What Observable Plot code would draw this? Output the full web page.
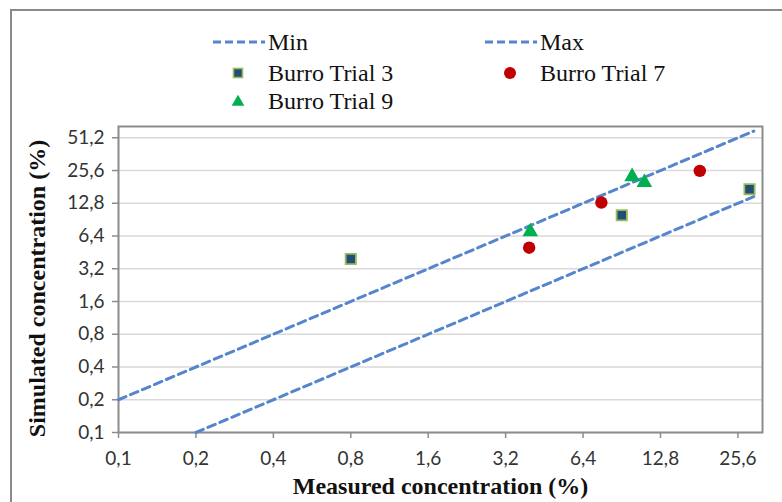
<!DOCTYPE html>
<html>
<head>
<meta charset="utf-8">
<script src="https://cdn.jsdelivr.net/npm/d3@7"></script>
<script src="https://cdn.jsdelivr.net/npm/@observablehq/plot@0.6"></script>
<style>
  html, body { margin: 0; padding: 0; background: #fff; }
  #wrap { position: relative; width: 782px; height: 502px; overflow: hidden; }
  #border { position: absolute; left: 10px; top: 9px; width: 800px; height: 520px; border: 2px solid #8a8a8a; pointer-events: none; }
  #legend { display: block; }
  #chart svg { overflow: visible; }
</style>
</head>
<body>
<div id="wrap">
  <div id="border"></div>
  <svg id="legend" width="782" height="116"></svg>
  <div id="chart"></div>
</div>
<script>
// ---- data ----
const xTicks = [0.1, 0.2, 0.4, 0.8, 1.6, 3.2, 6.4, 12.8, 25.6];
const yTicks = [0.1, 0.2, 0.4, 0.8, 1.6, 3.2, 6.4, 12.8, 25.6, 51.2];

const minX = [0.1, 29.5];
const minY = [0.2, 59];
const maxX = [0.2, 29.5];
const maxY = [0.1, 14.75];

const trial3X = [0.8, 9.05, 28.4];
const trial3Y = [3.93, 9.93, 17.2];
const trial7X = [3.95, 7.54, 18.2];
const trial7Y = [5.0, 13.0, 25.4];
const trial9X = [3.99, 9.93, 11.08];
const trial9Y = [7.0, 22.5, 19.9];

const seriesNames = ["Min", "Max", "Burro Trial 3", "Burro Trial 7", "Burro Trial 9"];

// ---- styles ----
const lineColor = "#5585cc";
const c3Fill = "#1f4e79", c3Stroke = "#9bbb59";
const c7Fill = "#c00000";
const c9Fill = "#00b050";
const serif = "'Liberation Serif', 'DejaVu Serif', serif";
const sans = "Lato, 'Liberation Sans', sans-serif";

const zip = (xs, ys) => xs.map((x, i) => ({x, y: ys[i]}));
const fmt = d => String(d).replace(".", ",");

const chart = Plot.plot({
  width: 782,
  height: 386,
  marginTop: 10,
  marginLeft: 118,
  marginRight: 20,
  marginBottom: 70,
  style: {fontFamily: sans, fontSize: "19px", color: "#333", background: "transparent", overflow: "visible"},
  x: {type: "log", base: 2, domain: [0.1, 31.9]},
  y: {type: "log", base: 2, domain: [0.1, 65]},
  marks: [
    Plot.gridY(yTicks, {stroke: "#d9d9d9", strokeOpacity: 1, strokeWidth: 1.5}),
    Plot.frame({stroke: "#8c8c8c", strokeWidth: 2}),
    Plot.axisX(xTicks, {tickSize: 6, tickPadding: 13, stroke: "#8c8c8c", strokeWidth: 1.5, tickFormat: fmt, label: null, fill: "#333"}),
    Plot.axisY(yTicks, {tickSize: 6, tickPadding: 8, stroke: "#8c8c8c", strokeWidth: 1.5, tickFormat: fmt, label: null, fill: "#333"}),
    Plot.line(zip(minX, minY), {x: "x", y: "y", stroke: lineColor, strokeWidth: 3, strokeDasharray: "8,5"}),
    Plot.line(zip(maxX, maxY), {x: "x", y: "y", stroke: lineColor, strokeWidth: 3, strokeDasharray: "8,5"}),
    Plot.dot(zip(trial3X, trial3Y), {x: "x", y: "y", symbol: "square", r: 5.8, fill: c3Fill, stroke: c3Stroke, strokeWidth: 1.8}),
    Plot.dot(zip(trial7X, trial7Y), {x: "x", y: "y", symbol: "circle", r: 6.2, fill: c7Fill, stroke: null}),
    Plot.dot(zip(trial9X, trial9Y), {x: "x", y: "y", symbol: "triangle", r: 5.8, fill: c9Fill, stroke: null}),
    Plot.text(["Simulated concentration (%)"], {frameAnchor: "left", dx: -81, dy: 9, rotate: -90, textAnchor: "middle",
      lineAnchor: "middle", text: d => d, fontFamily: serif, fontSize: 24, fontWeight: "bold", fill: "#111"}),
    Plot.text(["Measured concentration (%)"], {frameAnchor: "bottom", dy: 61, textAnchor: "middle", text: d => d,
      fontFamily: serif, fontSize: 24, fontWeight: "bold", fill: "#111"})
  ]
});
document.getElementById("chart").appendChild(chart);

// ---- legend ----
const lg = d3.select("#legend");
const tstyle = s => s.attr("font-family", serif).attr("font-size", 24).attr("fill", "#111");
lg.append("line").attr("x1", 213).attr("x2", 265).attr("y1", 42).attr("y2", 42)
  .attr("stroke", lineColor).attr("stroke-width", 3).attr("stroke-dasharray", "8,4");
lg.append("text").attr("x", 268).attr("y", 50).text(seriesNames[0]).call(tstyle);
lg.append("line").attr("x1", 485).attr("x2", 537).attr("y1", 42).attr("y2", 42)
  .attr("stroke", lineColor).attr("stroke-width", 3).attr("stroke-dasharray", "8,4");
lg.append("text").attr("x", 540).attr("y", 50).text(seriesNames[1]).call(tstyle);
lg.append("rect").attr("x", 233.5).attr("y", 68.5).attr("width", 9).attr("height", 9)
  .attr("fill", c3Fill).attr("stroke", c3Stroke).attr("stroke-width", 1.6);
lg.append("text").attr("x", 268).attr("y", 81).text(seriesNames[2]).call(tstyle);
lg.append("circle").attr("cx", 510).attr("cy", 73).attr("r", 6).attr("fill", c7Fill);
lg.append("text").attr("x", 540).attr("y", 81).text(seriesNames[3]).call(tstyle);
lg.append("path").attr("d", d3.symbol(d3.symbolTriangle, 70)()).attr("transform", "translate(238,102)").attr("fill", c9Fill);
lg.append("text").attr("x", 268).attr("y", 109).text(seriesNames[4]).call(tstyle);
</script>
</body>
</html>
